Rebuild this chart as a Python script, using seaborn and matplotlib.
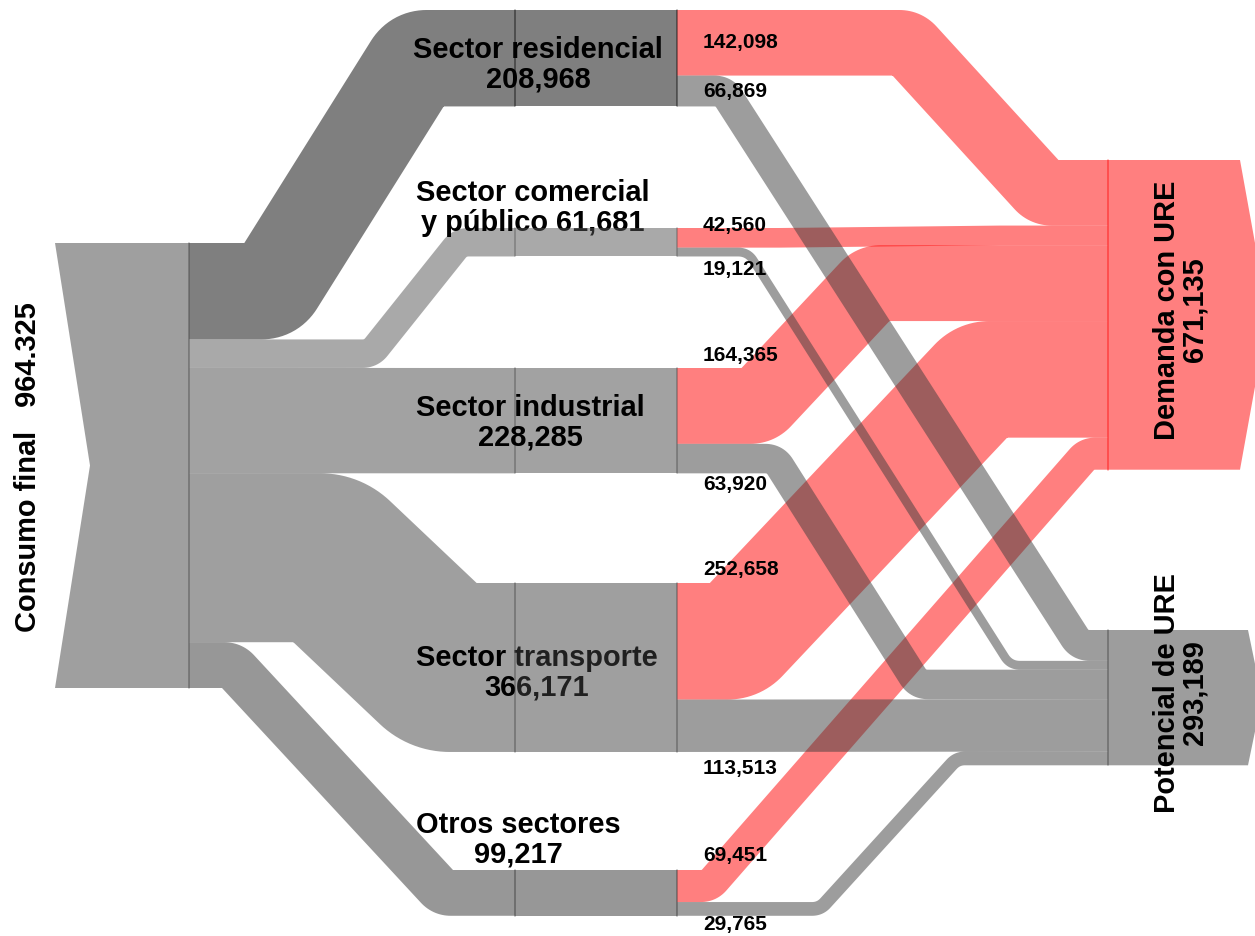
import numpy as np
import matplotlib.pyplot as plt
import seaborn as sns
from matplotlib.patches import Polygon, Rectangle

# Datos
sector_names = ['Sector residencial\n', 'Sector comercial\ny público ', 'Sector industrial\n',
                'Sector transporte\n', 'Otros sectores\n']
sector_totals = [208968, 61681, 228285, 366171, 99217]
demanda_flows = [142098, 42560, 164365, 252658, 69451]
potencial_flows = [66869, 19121, 63920, 113513, 29765]
consumo_total = 964325
demanda_total = 671135
potencial_total = 293189

# Layout (pixeles)
W, H = 1255, 936
X_CONSUMO, X_NOTCH = (55, 189), 90
X_SECTOR = (515, 677)
X_OUT = 1108
CONSUMO_TOP, CONSUMO_H = 243, 445
SECTOR_TOPS = [10, 228, 368, 583, 870]
DEMANDA_TOP, POTENCIAL_TOP = 160, 630
BENDS_IN = [(271, 417), (371, 460), None, (327, 443), (232, 443)]
BENDS_RED = [(907, 1044), (780, 1000), (758, 873), (735, 982), (709, 1087)]
BENDS_GRAY = [(724, 1080), (748, 1010), (775, 918), None, (820, 957)]
LABEL_POS = [('in', 0), ('in', 0), ('above', 2), ('below', 13), ('above', 13),
             ('below', 11), ('above', 14), ('below', 17), ('above', 15), ('below', 9)]
SECTOR_LABEL_XY = [(538, 65), (533, 208), (530, 423), (537, 673), (518, 840)]
LABEL_UNDER_NODE = [False, True, False, True, False]
RADIUS = 18

sector_colors = ['#000000', '#555555', '#474747', '#414141', '#313131']
consumo_color = '#414141'
gray_color = '#3c3c3c'
red_color = '#ff0000'

sns.set_theme(style='white')
plt.rcParams['font.family'] = ['Liberation Sans', 'DejaVu Sans']
plt.rcParams['text.color'] = 'black'

k = CONSUMO_H / consumo_total
dpi = 100


def centerline(x0, y0, x1, y1, bends):
    if bends is None:
        return [x0, x1], [y0, y1]
    xa, xb = bends
    pts = [np.array(p, float) for p in [(x0, y0), (xa, y0), (xb, y1), (x1, y1)]]
    out = [pts[0]]
    for i in (1, 2):
        p0, p, p1 = pts[i - 1], pts[i], pts[i + 1]
        l1 = np.linalg.norm(p - p0)
        l2 = np.linalg.norm(p1 - p)
        u1 = (p - p0) / l1
        u2 = (p1 - p) / l2
        theta = np.arccos(np.clip(u1 @ u2, -1, 1))
        t = RADIUS * np.tan(theta / 2)
        lmid = np.linalg.norm(pts[2] - pts[1])
        t = min(t, 0.45 * lmid, 0.9 * min(l1, l2))
        a = p - u1 * t
        b = p + u2 * t
        s = np.linspace(0, 1, 16)[:, None]
        out.extend(list((1 - s) ** 2 * a + 2 * (1 - s) * s * p + s ** 2 * b))
    out.append(pts[3])
    arr = np.array(out)
    return arr[:, 0], arr[:, 1]


def draw_link(ax, x0, y0, x1, y1, w, bends, color, z):
    xs, ys = centerline(x0, y0, x1, y1, bends)
    ax.plot(xs, ys, color=color, alpha=0.5, lw=w * 72 / dpi,
            solid_capstyle='butt', solid_joinstyle='round', zorder=z)


fig = plt.figure(figsize=(W / dpi, H / dpi), dpi=dpi)
ax = fig.add_axes([0, 0, 1, 1])
ax.set_xlim(0, W)
ax.set_ylim(H, 0)
ax.axis('off')

# Consumo final -> sectores
y_src = CONSUMO_TOP
for i, tot in enumerate(sector_totals):
    w = tot * k
    draw_link(ax, X_CONSUMO[1], y_src + w / 2, X_SECTOR[0], SECTOR_TOPS[i] + w / 2,
              w, BENDS_IN[i], sector_colors[i], 1)
    y_src += w

# Sectores -> Demanda / Potencial
y_dem = DEMANDA_TOP
y_pot = POTENCIAL_TOP
labels = []
for i in range(len(sector_totals)):
    wr = demanda_flows[i] * k
    wg = potencial_flows[i] * k
    top = SECTOR_TOPS[i]
    draw_link(ax, X_SECTOR[1], top + wr / 2, X_OUT, y_dem + wr / 2, wr,
              BENDS_RED[i], red_color, 1)
    draw_link(ax, X_SECTOR[1], top + wr + wg / 2, X_OUT, y_pot + wg / 2, wg,
              BENDS_GRAY[i], gray_color, 2)
    labels.append((demanda_flows[i], top, top + wr))
    labels.append((potencial_flows[i], top + wr, top + wr + wg))
    y_dem += wr
    y_pot += wg

# Etiquetas de los flujos
for (val, t, b), (mode, gap) in zip(labels, LABEL_POS):
    if mode == 'in':
        y = (t + b) / 2
    elif mode == 'above':
        y = t - gap
    else:
        y = b + gap
    ax.text(703, y, f'{val:,}', fontsize=15, fontweight='bold', ha='left',
            va='center', color='black', zorder=6)

# Nodos de sectores (semitransparentes)
for i, tot in enumerate(sector_totals):
    h = tot * k
    cx, cy = SECTOR_LABEL_XY[i]
    ax.text(cx, cy, sector_names[i] + f'{tot:,}', fontsize=20.9, fontweight='bold',
            ha='center', va='center', linespacing=1.05, color='black',
            zorder=3 if LABEL_UNDER_NODE[i] else 6)
    ax.add_patch(Rectangle((X_SECTOR[0], SECTOR_TOPS[i]), X_SECTOR[1] - X_SECTOR[0], h,
                           facecolor=sector_colors[i], alpha=0.5, lw=0, zorder=4))
    for xl in X_SECTOR:
        ax.plot([xl, xl], [SECTOR_TOPS[i], SECTOR_TOPS[i] + h], color=sector_colors[i],
                alpha=0.5, lw=1.1, zorder=5)

# Consumo final
ch = consumo_total * k
ax.add_patch(Polygon([(X_CONSUMO[0], CONSUMO_TOP), (X_CONSUMO[1], CONSUMO_TOP),
                      (X_CONSUMO[1], CONSUMO_TOP + ch), (X_CONSUMO[0], CONSUMO_TOP + ch),
                      (X_NOTCH, CONSUMO_TOP + ch / 2)],
                     facecolor=consumo_color, alpha=0.5, lw=0, zorder=4))
ax.plot([X_CONSUMO[1]] * 2, [CONSUMO_TOP, CONSUMO_TOP + ch], color=consumo_color,
        alpha=0.5, lw=1.1, zorder=5)
ax.text(28, CONSUMO_TOP + ch / 2 + 2,
        'Consumo final   ' + f'{consumo_total:,}'.replace(',', '.'),
        rotation=90, fontsize=20.9, fontweight='bold', ha='center', va='center',
        color='black', zorder=6)

# Demanda con URE y Potencial de URE
for total, top, color, tip, name in [
        (demanda_total, DEMANDA_TOP, red_color, (1240, 1268), 'Demanda con URE'),
        (potencial_total, POTENCIAL_TOP, gray_color, (1248, 1262), 'Potencial de URE')]:
    h = total * k
    ax.add_patch(Polygon([(X_OUT, top), (tip[0], top), (tip[1], top + h / 2),
                          (tip[0], top + h), (X_OUT, top + h)],
                         facecolor=color, alpha=0.5, lw=0, zorder=4))
    ax.plot([X_OUT, X_OUT], [top, top + h], color=color, alpha=0.5, lw=1.1, zorder=5)
    ax.text(1181, top + h / 2 - 5, f'{name}\n{total:,}', rotation=90, fontsize=20.9,
            fontweight='bold', ha='center', va='center', linespacing=1.0,
            color='black', zorder=6)

fig.savefig('out.png', dpi=dpi, facecolor='white')
